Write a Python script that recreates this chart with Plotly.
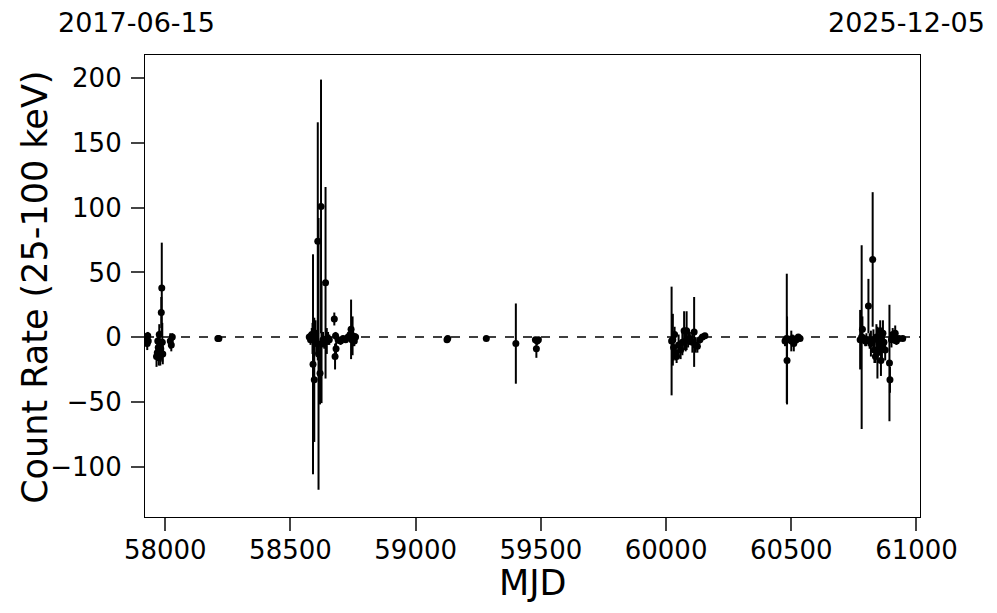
import plotly.graph_objects as go

mjd = [57926, 57928, 57930, 57932,
       57965, 57968, 57970, 57972, 57974, 57976, 57978, 57980, 57982, 57984, 57986, 57988, 57990,
       58020, 58024, 58028, 58210, 58214,
       58575, 58580, 58585, 58588, 58590, 58595, 58600, 58603, 58609, 58612, 58618, 58622, 58624,
       58630, 58635, 58640, 58645, 58650, 58655, 58675, 58678, 58680, 58682, 58690, 58700, 58710,
       58720, 58730, 58738, 58742, 58745, 58748, 58750, 58755, 58760,
       59125, 59128, 59282, 59400, 59478, 59482, 59485, 59490,
       60022, 60027, 60030, 60034, 60038, 60042, 60050, 60058, 60065, 60072, 60078, 60082, 60088,
       60095, 60105, 60112, 60118, 60125, 60135, 60145, 60155,
       60475, 60478, 60482, 60483, 60495, 60500, 60505, 60510, 60520, 60528, 60535,
       60775, 60781, 60784, 60790, 60795, 60800, 60808, 60813, 60818, 60825, 60828, 60832, 60836,
       60840, 60844, 60850, 60855, 60858, 60862, 60866, 60870, 60875, 60892, 60894, 60900, 60905,
       60910, 60915, 60920, 60930, 60945]
rate = [-2, -5, 1, -3,
        -15, -12, -3, -8, -16, 2, -5, -14, -9, 19, 38, -4, -13,
        -3, -6, 0, -1, -1,
        0, -2, 2, -1, -21, -33, 3, -5, 74, -13, -28, 101, -5,
        -2, -4, 42, -3, -1, -2, 14, -15, 1, -9, -2, -3, -1,
        -2, 0, 2, 6, -2, 1, -1, -3, 0,
        -2, -1, -1, -5, -2, -9, -3, -2,
        -3, -2, -8, 2, -12, -15, -6, -10, -4, 5, -3, 5, -2,
        -1, -4, 4, -6, -7, -2, 0, 1,
        -3, -2, -1, -18, -2, -3, -1, -5, -2, 0, -1,
        -2, 0, 6, -1, -3, -2, 24, -3, -5, 60, -2, -10, -15,
        0, -12, -5, 5, -18, -8, 3, -4, -10, -20, -33, -2, 2,
        -1, 3, -3, -1, -1]
err = [4, 5, 3, 3,
       8, 6, 5, 6, 6, 8, 10, 8, 6, 12, 35, 15, 8,
       6, 5, 3, 1.5, 1.5,
       3, 4, 5, 12, 85, 48, 10, 8, 92, 105, 24, 98, 46,
       6, 5, 74, 10, 5, 4, 5, 10, 3, 5, 3, 3, 2,
       2, 2, 3, 23, 8, 15, 6, 4, 3,
       1.5, 1.5, 1.5, 31, 2, 7, 3, 2,
       42, 20, 10, 6, 6, 5, 8, 7, 10, 15, 8, 15, 6,
       5, 8, 27, 6, 5, 3, 2, 2,
       4, 3, 50, 34, 3, 8, 3, 6, 3, 2, 2,
       23, 71, 10, 3, 4, 5, 21, 6, 10, 52, 8, 10, 5,
       10, 20, 8, 8, 12, 10, 10, 6, 8, 45, 10, 6, 5,
       4, 6, 3, 2, 2]

x_range = [57919, 61014]
y_range = [-139, 218]
x_ticks = [58000, 58500, 59000, 59500, 60000, 60500, 61000]
x_ticklabels = ["58000", "58500", "59000", "59500", "60000", "60500", "61000"]
y_ticks = [-100, -50, 0, 50, 100, 150, 200]
y_ticklabels = ["\u2212100", "\u221250", "0", "50", "100", "150", "200"]
date_start = "2017-06-15"
date_end = "2025-12-05"
x_title = "MJD"
y_title = "Count Rate (25-100 keV)"

fig = go.Figure()
fig.add_trace(go.Scatter(
    x=mjd, y=rate, mode="markers",
    marker=dict(color="black", size=7),
    error_y=dict(type="data", array=err, visible=True, color="black", thickness=2, width=0),
    showlegend=False,
))
fig.add_shape(type="line", xref="paper", yref="y", x0=0, x1=1, y0=0, y1=0,
              line=dict(color="black", width=1.5, dash="dash"))

font_family = "DejaVu Sans"
fig.update_layout(
    width=989, height=605,
    margin=dict(l=137, r=77, t=47, b=96, autoexpand=False),
    plot_bgcolor="white", paper_bgcolor="white",
    font=dict(family=font_family, color="black"),
)
fig.update_xaxes(
    range=x_range, tickvals=x_ticks, ticktext=x_ticklabels, ticks="outside", ticklen=13, tickwidth=2,
    showline=True, linecolor="black", linewidth=1.2, mirror=True, showgrid=False, zeroline=False,
    tickfont=dict(size=26), automargin=False, ticklabelstandoff=-3,
)
fig.update_yaxes(
    range=y_range, tickvals=y_ticks, ticktext=y_ticklabels, ticks="outside", ticklen=13, tickwidth=2,
    showline=True, linecolor="black", linewidth=1.2, mirror=True, showgrid=False, zeroline=False,
    tickfont=dict(size=26), automargin=False, ticklabelstandoff=4,
)
fig.add_annotation(text=x_title, xref="paper", yref="paper", x=0.5, y=-0.143,
                   showarrow=False, xanchor="center", yanchor="middle", font=dict(size=35))
fig.add_annotation(text=y_title, xref="paper", yref="paper", x=-0.142, y=0.498, textangle=-90,
                   showarrow=False, xanchor="center", yanchor="middle", font=dict(size=35))
fig.add_annotation(text=date_start, xref="paper", yref="paper", x=-0.0116, y=1.0714,
                   showarrow=False, xanchor="center", yanchor="middle", font=dict(size=27))
fig.add_annotation(text=date_end, xref="paper", yref="paper", x=0.983, y=1.0714,
                   showarrow=False, xanchor="center", yanchor="middle", font=dict(size=27))

fig.write_html("out.html")
